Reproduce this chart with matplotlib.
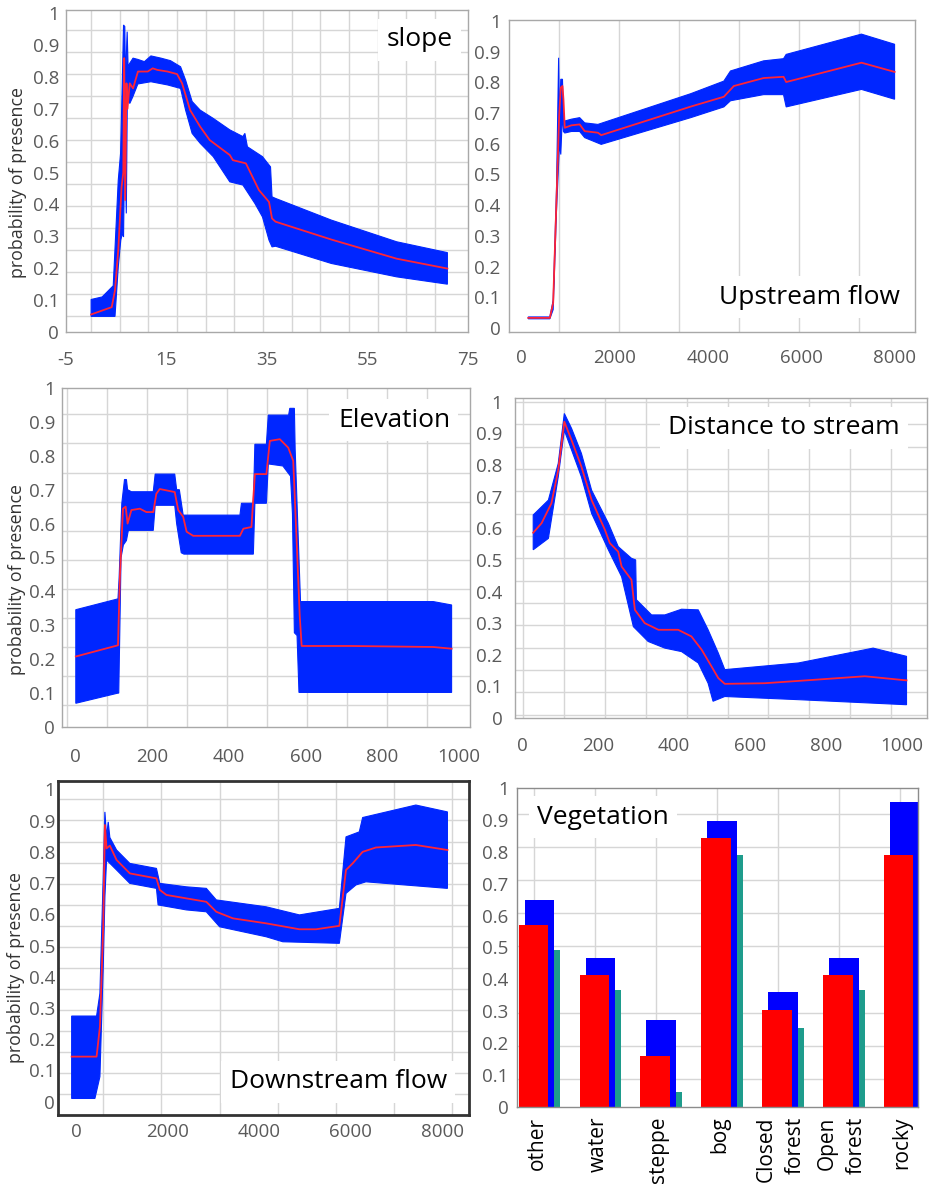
import numpy as np
import matplotlib.pyplot as plt
from matplotlib.ticker import FixedLocator, FuncFormatter

plt.rcParams['font.family'] = ['Open Sans', 'DejaVu Sans']
plt.rcParams['axes.unicode_minus'] = False

W, H = 930, 1188
BLUE = '#0026ff'
RED = '#ff2436'
GRID = '#d6d6d6'
TICK = '#5a5a5a'

# ---- slope ----
slope_x = [0, 4.1, 4.75, 5.4, 6.06, 6.4, 6.58, 6.78, 7.04, 7.23, 7.69, 8.34, 9.32, 11.27, 12.25,
           13.2, 15.2, 17.1, 18.1, 19.7, 21.7, 23.6, 27.6, 28.2, 30.8, 33.4, 35.4, 36.0, 36.7,
           47.8, 60.8, 70.9]
slope_m = [0.055, 0.078, 0.131, 0.257, 0.455, 0.5, 0.859, 0.414, 0.78, 0.70, 0.78, 0.764, 0.817,
           0.817, 0.827, 0.822, 0.817, 0.809, 0.78, 0.696, 0.644, 0.602, 0.555, 0.539, 0.529,
           0.445, 0.408, 0.356, 0.346, 0.29, 0.23, 0.199]
slope_ux = [0, 2.2, 4.4, 5.4, 5.86, 6.2, 6.45, 6.7, 6.84, 7.17, 7.36, 7.69, 8.34, 9.3, 10.6, 11.9,
            13.9, 15.8, 17.8, 18.8, 20.1, 21.7, 24.3, 27.6, 30.2, 30.6, 31.1, 34.1, 35.7, 36.0,
            36.7, 47.8, 60.8, 70.9]
slope_u = [0.102, 0.11, 0.145, 0.476, 0.56, 0.78, 0.963, 0.958, 0.79, 0.942, 0.832, 0.843, 0.859,
           0.855, 0.848, 0.866, 0.859, 0.851, 0.832, 0.79, 0.723, 0.696, 0.67, 0.634, 0.613,
           0.623, 0.581, 0.55, 0.518, 0.424, 0.419, 0.351, 0.283, 0.249]
slope_lx = [0, 4.75, 5.4, 5.9, 6.2, 6.45, 6.7, 7.0, 7.2, 7.7, 8.3, 9.3, 11.9, 15.2, 17.8, 18.8,
            20.1, 21.7, 24.3, 27.6, 30.2, 32.6, 34.1, 35.4, 36.0, 36.7, 47.8, 60.8, 70.9]
slope_l = [0.049, 0.049, 0.204, 0.288, 0.309, 0.298, 0.602, 0.372, 0.728, 0.717, 0.738, 0.778,
           0.785, 0.775, 0.764, 0.696, 0.623, 0.592, 0.55, 0.471, 0.461, 0.403, 0.361, 0.288,
           0.267, 0.269, 0.215, 0.173, 0.15]

# ---- upstream flow ----
up_x = [156, 617, 688, 759, 816, 851, 887, 908, 936, 1078, 1255, 1362, 1645, 1716, 3631, 4340,
        4553, 5191, 5617, 5674, 7284, 7993]
up_m = [0.033, 0.033, 0.082, 0.418, 0.69, 0.783, 0.788, 0.745, 0.652, 0.66, 0.663, 0.641, 0.636,
        0.628, 0.721, 0.753, 0.788, 0.814, 0.818, 0.801, 0.864, 0.834]
up_ux = [156, 617, 688, 759, 805, 823, 851, 887, 908, 936, 1078, 1255, 1362, 1645, 3631, 4340,
         4482, 5191, 5617, 5674, 7284, 7993]
up_u = [0.036, 0.036, 0.09, 0.45, 0.88, 0.68, 0.81, 0.81, 0.69, 0.674, 0.68, 0.685, 0.668, 0.663,
        0.763, 0.804, 0.837, 0.87, 0.877, 0.891, 0.957, 0.924]
up_lx = [156, 617, 688, 759, 823, 851, 887, 908, 936, 1078, 1255, 1362, 1716, 3631, 4340, 4482,
         5191, 5617, 5674, 7284, 7993]
up_l = [0.03, 0.03, 0.06, 0.38, 0.6, 0.565, 0.70, 0.64, 0.635, 0.64, 0.64, 0.62, 0.598, 0.685,
        0.72, 0.74, 0.76, 0.76, 0.72, 0.777, 0.745]

# ---- elevation ----
elev_x = [0, 110, 115, 123, 130, 135, 145, 167, 184, 202, 210, 219, 258, 267, 280, 289, 306,
          428, 437, 458, 467, 497, 506, 532, 554, 567, 576, 584, 589, 715, 932, 980]
elev_m = [0.208, 0.241, 0.444, 0.644, 0.65, 0.6, 0.64, 0.644, 0.634, 0.634, 0.688, 0.702, 0.693,
          0.64, 0.62, 0.576, 0.564, 0.564, 0.585, 0.59, 0.746, 0.746, 0.844, 0.849, 0.824,
          0.785, 0.546, 0.327, 0.239, 0.239, 0.236, 0.231]
elev_ux = [0, 110, 113, 120, 127, 132, 135, 145, 202, 207, 258, 263, 270, 280, 428, 432, 463,
           467, 497, 502, 555, 558, 570, 572, 580, 586, 932, 980]
elev_u = [0.346, 0.378, 0.44, 0.66, 0.73, 0.73, 0.70, 0.694, 0.694, 0.746, 0.746, 0.70, 0.70,
          0.625, 0.625, 0.66, 0.66, 0.834, 0.834, 0.92, 0.92, 0.94, 0.94, 0.82, 0.56, 0.37,
          0.37, 0.36]
elev_lx = [0, 110, 112, 118, 124, 132, 137, 202, 207, 258, 263, 275, 282, 463, 467, 497, 502,
           540, 560, 565, 570, 577, 582, 980]
elev_l = [0.07, 0.10, 0.10, 0.50, 0.537, 0.55, 0.58, 0.58, 0.654, 0.654, 0.6, 0.514, 0.51, 0.51,
          0.66, 0.66, 0.776, 0.77, 0.74, 0.629, 0.278, 0.27, 0.102, 0.102]

# ---- distance to stream ----
dist_x = [29, 51, 77, 95, 111, 130, 156, 183, 218, 231, 253, 262, 288, 297, 323, 359, 411, 446,
          473, 499, 517, 534, 640, 772, 903, 1013]
dist_m = [0.586, 0.616, 0.679, 0.784, 0.937, 0.879, 0.795, 0.689, 0.595, 0.553, 0.526, 0.479,
          0.437, 0.342, 0.30, 0.279, 0.279, 0.258, 0.216, 0.163, 0.126, 0.108, 0.11, 0.121,
          0.132, 0.119]
dist_ux = [29, 69, 95, 111, 130, 156, 183, 227, 253, 288, 299, 301, 341, 376, 420, 464, 490,
           517, 534, 728, 925, 1013]
dist_u = [0.642, 0.689, 0.805, 0.963, 0.916, 0.837, 0.72, 0.616, 0.542, 0.505, 0.50, 0.374,
          0.326, 0.326, 0.344, 0.342, 0.279, 0.205, 0.153, 0.174, 0.221, 0.195]
dist_lx = [29, 69, 95, 111, 156, 183, 227, 262, 293, 332, 376, 420, 464, 490, 503, 534, 728,
           1013]
dist_l = [0.532, 0.568, 0.763, 0.91, 0.763, 0.647, 0.532, 0.447, 0.289, 0.242, 0.221, 0.21,
          0.174, 0.11, 0.053, 0.068, 0.058, 0.042]

# ---- downstream flow ----
down_x = [-94, 450, 523, 595, 632, 668, 740, 886, 1176, 1757, 1830, 1975, 2410, 2846, 3064,
          3426, 4152, 4878, 5241, 5750, 5895, 6040, 6258, 6548, 7420, 8109]
down_m = [0.144, 0.144, 0.24, 0.56, 0.886, 0.811, 0.82, 0.774, 0.731, 0.715, 0.678, 0.662,
          0.651, 0.64, 0.608, 0.587, 0.571, 0.552, 0.552, 0.563, 0.742, 0.763, 0.80, 0.814,
          0.822, 0.806]
down_ux = [-94, 450, 523, 595, 632, 668, 704, 740, 886, 1176, 1757, 1830, 2410, 2846, 3064,
           4152, 4878, 5750, 5895, 6185, 6258, 7420, 8109]
down_u = [0.274, 0.274, 0.347, 0.72, 0.928, 0.848, 0.896, 0.846, 0.806, 0.763, 0.747, 0.699,
          0.688, 0.683, 0.646, 0.624, 0.598, 0.619, 0.848, 0.864, 0.91, 0.95, 0.928]
down_lx = [-94, 414, 523, 595, 632, 668, 886, 1176, 1757, 1793, 2410, 2846, 3136, 4152, 4515,
           5750, 5895, 6113, 6330, 8109]
down_l = [0.01, 0.01, 0.08, 0.43, 0.656, 0.774, 0.742, 0.699, 0.683, 0.63, 0.614, 0.608, 0.56,
          0.528, 0.512, 0.507, 0.667, 0.694, 0.704, 0.683]

# ---- vegetation ----
veg_names = ['other', 'water', 'steppe', 'bog', 'Closed\nforest', 'Open\nforest', 'rocky']
veg_blue = [0.648, 0.466, 0.272, 0.896, 0.36, 0.466, 0.955]
veg_red = [0.569, 0.415, 0.159, 0.844, 0.305, 0.415, 0.791]
veg_teal = [0.493, 0.366, 0.046, 0.791, 0.248, 0.366, np.nan]


def px_axes(fig, l, t, r, b):
    return fig.add_axes([l / W, 1 - b / H, (r - l) / W, (b - t) / H])


def setup(ax, xlim, ylim, xticks, gx, gy, xpad, ypad, frame='#a8a8a8', lw=1.0):
    ax.set_xlim(xlim)
    ax.set_ylim(ylim)
    if xticks is not None:
        ax.set_xticks(xticks)
    ax.set_yticks(np.round(np.arange(0, 1.01, 0.1), 1))
    ax.yaxis.set_major_formatter(FuncFormatter(lambda v, p: f'{v:g}'))
    ax.xaxis.set_minor_locator(FixedLocator(gx))
    ax.yaxis.set_minor_locator(FixedLocator(gy))
    ax.grid(which='minor', color=GRID, lw=1)
    ax.tick_params(which='both', length=0, labelsize=13.5, labelcolor=TICK)
    ax.tick_params(axis='x', pad=xpad)
    ax.tick_params(axis='y', pad=ypad)
    for s in ax.spines.values():
        s.set_color(frame)
        s.set_linewidth(lw)
    ax.set_axisbelow(True)


def curve(ax, xm, ym, xu, yu, xl, yl):
    px = np.r_[xu, np.array(xl)[::-1]]
    py = np.r_[yu, np.array(yl)[::-1]]
    ax.fill(px, py, color=BLUE, ec=BLUE, lw=0.8)
    ax.plot(xm, ym, color=RED, lw=1.3)


def title(fig, x, y, s, ha='right'):
    fig.text(x / W, 1 - y / H, s, ha=ha, va='center', fontsize=19, color='black',
             bbox=dict(fc='white', ec='none', pad=6))


def ylab(fig, x, y):
    fig.text(x / W, 1 - y / H, 'probability of presence', rotation=90, ha='center',
             va='center', fontsize=12.8, color='#333333')


fig = plt.figure(figsize=(W / 100, H / 100), dpi=100)

# slope
ax1 = px_axes(fig, 66, 10, 468, 332)
setup(ax1, (-5, 75), (0, 1.01), [-5, 15, 35, 55, 75], np.arange(0, 72, 5.7),
      np.arange(0.049, 1, 0.0692), 14, 5)
curve(ax1, slope_x, slope_m, slope_ux, slope_u, slope_lx, slope_l)
title(fig, 453, 40, 'slope')
ylab(fig, 18, 183)

# upstream flow
ax2 = px_axes(fig, 509, 20, 915, 332)
setup(ax2, (-257, 8430), (-0.013, 1.003), [0, 2000, 4000, 6000, 8000],
      np.arange(808, 8400, 1283), np.arange(0.1, 1, 0.1), 12, 6)
curve(ax2, up_x, up_m, up_ux, up_u, up_lx, up_l)
title(fig, 900, 297, 'Upstream flow')

# elevation
ax3 = px_axes(fig, 62, 388, 470, 727)
setup(ax3, (-36, 1028), (0, 1), [0, 200, 400, 600, 800, 1000], np.arange(-21.7, 1000, 104.3),
      np.arange(0.065, 1, 0.0857), 15, 5)
curve(ax3, elev_x, elev_m, elev_ux, elev_u, elev_lx, elev_l)
title(fig, 450, 420, 'Elevation')
ylab(fig, 17, 580)

# distance to stream
ax4 = px_axes(fig, 515, 398, 927, 718)
setup(ax4, (-19, 1067), (0, 1.012), [0, 200, 400, 600, 800, 1000], np.arange(3, 1067, 107.7),
      np.arange(0.011, 1.01, 0.0706), 14, 9)
curve(ax4, dist_x, dist_m, dist_ux, dist_u, dist_lx, dist_l)
title(fig, 900, 428, 'Distance to stream')

# downstream flow
ax5 = px_axes(fig, 58, 781, 469, 1115)
setup(ax5, (-392, 8580), (-0.043, 1.027), [0, 2000, 4000, 6000, 8000],
      np.arange(-675, 8580, 1270), np.arange(0.023, 1.02, 0.0675), 6, 2,
      frame='#333333', lw=2)
curve(ax5, down_x, down_m, down_ux, down_u, down_lx, down_l)
title(fig, 447, 1082, 'Downstream flow')
ylab(fig, 16, 968)

# vegetation
ax6 = px_axes(fig, 517, 788, 918, 1107)
idx = np.arange(len(veg_names))
setup(ax6, (-0.027, 6.56), (0, 1), None, idx + 0.26, np.arange(0.088, 1, 0.104), 10, 6,
      frame='#8c8c8c')
ax6.bar(idx + 0.1, veg_blue, width=0.485, align='edge', color='#0000ff')
ax6.bar(idx, veg_red, width=0.485, align='edge', color='#ff0000')
ax6.bar(idx + 0.585, veg_teal, width=0.1, align='edge', color='#1e9c8c')
ax6.set_xticks(idx + 0.3)
ax6.set_xticklabels(veg_names, rotation=90, va='top', ha='center', multialignment='right',
                    fontsize=15, color='black', linespacing=1.5)
ax6.tick_params(axis='x', labelcolor='black', pad=7)
title(fig, 537, 817, 'Vegetation', ha='left')

fig.savefig('out.png', dpi=100)
